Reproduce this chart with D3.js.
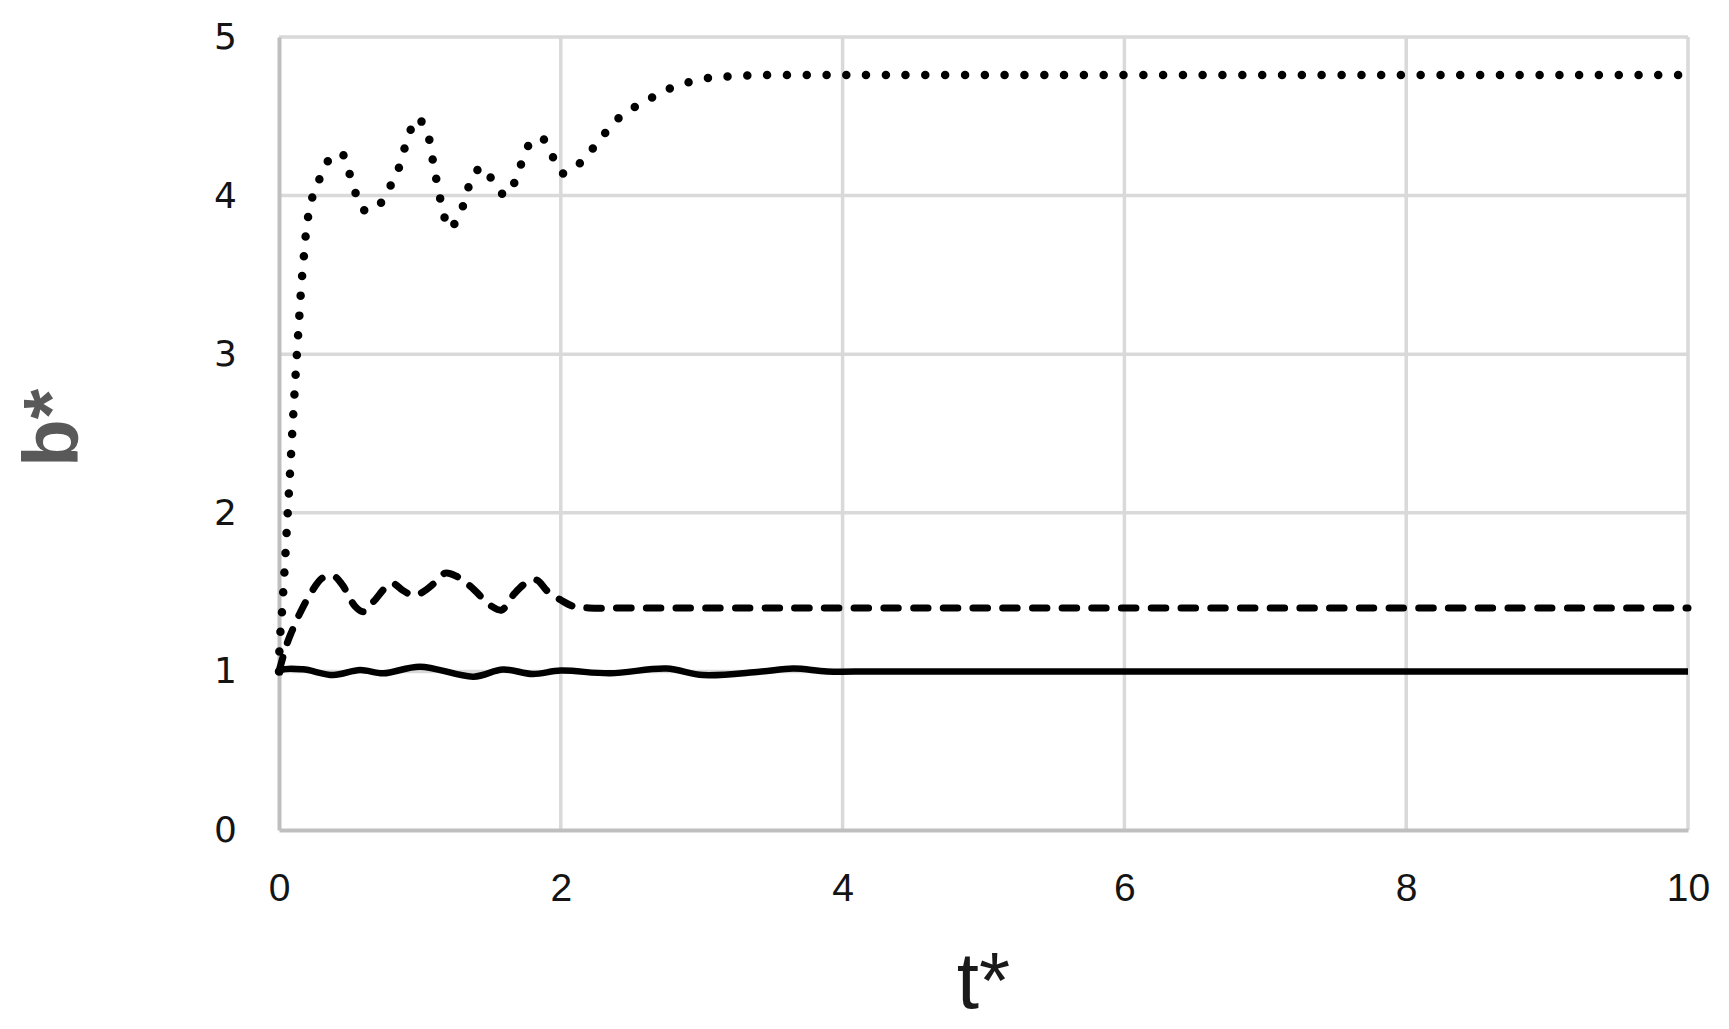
<!DOCTYPE html>
<html>
<head>
<meta charset="utf-8">
<script src="https://cdn.jsdelivr.net/npm/d3@7"></script>
<style>
  body { margin: 0; background: #fff; }
  svg { display: block; }
</style>
</head>
<body>
<svg width="1729" height="1029"></svg>
<script>
// values
const xTicks = [0, 2, 4, 6, 8, 10];
const yTicks = [0, 1, 2, 3, 4, 5];

const tDotted = [0, 0.005, 0.02, 0.04, 0.06, 0.08, 0.1, 0.12, 0.14, 0.16, 0.18, 0.2, 0.24, 0.29, 0.35, 0.44,
  0.5, 0.55, 0.6, 0.69, 0.77, 0.84, 0.92, 0.98, 1.05, 1.1, 1.15, 1.21, 1.28, 1.33, 1.37, 1.45, 1.53, 1.61,
  1.68, 1.75, 1.8, 1.87, 1.94, 2.01, 2.13, 2.22, 2.31, 2.4, 2.51, 2.63, 2.76, 2.89, 3.03, 3.17, 3.44, 3.8, 4.2, 10];
const bDotted = [1.0, 1.18, 1.36, 1.65, 1.97, 2.28, 2.6, 2.9, 3.18, 3.45, 3.65, 3.83, 4.0, 4.11, 4.22, 4.27,
  4.14, 4.0, 3.91, 3.92, 4.03, 4.15, 4.38, 4.49, 4.40, 4.18, 3.96, 3.79, 3.88, 4.0, 4.12, 4.18, 4.07, 4.0,
  4.10, 4.28, 4.35, 4.36, 4.25, 4.14, 4.20, 4.29, 4.39, 4.48, 4.55, 4.61, 4.67, 4.71, 4.74, 4.75, 4.76, 4.76, 4.76, 4.76];

const tDashed = [0, 0.055, 0.09, 0.15, 0.23, 0.31, 0.39, 0.45, 0.54, 0.6, 0.67, 0.8, 0.88, 0.95, 1.02, 1.1,
  1.18, 1.26, 1.36, 1.51, 1.58, 1.67, 1.75, 1.83, 1.9, 2.0, 2.09, 2.2, 2.5, 3.0, 10];
const bDashed = [1.0, 1.17, 1.25, 1.37, 1.50, 1.59, 1.60, 1.545, 1.41, 1.376, 1.44, 1.555, 1.51, 1.48, 1.50, 1.555,
  1.62, 1.60, 1.535, 1.41, 1.387, 1.49, 1.555, 1.576, 1.51, 1.45, 1.41, 1.40, 1.40, 1.40, 1.40];

const tSolid = [0, 0.02, 0.17, 0.385, 0.575, 0.74, 1.0, 1.38, 1.59, 1.8, 2.0, 2.35, 2.75, 3.01, 3.41, 3.65, 3.89, 4.2, 4.6, 10];
const bSolid = [0.98, 1.009, 1.013, 0.977, 1.009, 0.988, 1.03, 0.967, 1.012, 0.984, 1.005, 0.988, 1.018, 0.977, 0.998, 1.018, 1.0, 1.0, 1.0, 1.0];

const svg = d3.select('svg');

const x = d3.scaleLinear().domain([0, 10]).range([279, 1688]);
const y = d3.scaleLinear().domain([0, 5]).range([830, 37]);

// grid
svg.append('g')
  .selectAll('line')
  .data(xTicks.slice(1))
  .enter().append('line')
    .attr('x1', d => x(d)).attr('x2', d => x(d))
    .attr('y1', y(0)).attr('y2', y(5))
    .attr('stroke', '#d9d9d9').attr('stroke-width', 3.5);

svg.append('g')
  .selectAll('line')
  .data(yTicks.slice(1))
  .enter().append('line')
    .attr('x1', x(0)).attr('x2', x(10))
    .attr('y1', d => y(d)).attr('y2', d => y(d))
    .attr('stroke', '#d9d9d9').attr('stroke-width', 3.5);

// axes
const xAxis = svg.append('g')
  .attr('transform', `translate(0,${y(0)})`)
  .call(d3.axisBottom(x).tickValues(xTicks).tickSize(0).tickPadding(43).tickFormat(d3.format('d')));
const yAxis = svg.append('g')
  .attr('transform', `translate(${x(0)},0)`)
  .call(d3.axisLeft(y).tickValues(yTicks).tickSize(0).tickPadding(42).tickFormat(d3.format('d')));

[xAxis, yAxis].forEach(a => {
  a.select('.domain').attr('stroke', '#bfbfbf').attr('stroke-width', 4);
  a.selectAll('text')
    .attr('font-family', 'DejaVu Sans, sans-serif')
    .attr('font-size', 36)
    .attr('fill', '#141414');
});
xAxis.selectAll('text').attr('font-family', 'Liberation Sans, sans-serif').attr('font-size', 39);

// series
const line = d3.line().curve(d3.curveCatmullRom.alpha(0.5)).x(d => x(d[0])).y(d => y(d[1]));

svg.append('path')
  .datum(d3.zip(tSolid, bSolid))
  .attr('d', line)
  .attr('fill', 'none').attr('stroke', '#000').attr('stroke-width', 6.5);

svg.append('path')
  .datum(d3.zip(tDashed, bDashed))
  .attr('d', line)
  .attr('fill', 'none').attr('stroke', '#000').attr('stroke-width', 7)
  .attr('stroke-linecap', 'round').attr('stroke-dasharray', '14.5 15.2');

svg.append('path')
  .datum(d3.zip(tDotted, bDotted))
  .attr('d', line)
  .attr('fill', 'none').attr('stroke', '#000').attr('stroke-width', 8.5)
  .attr('stroke-linecap', 'round').attr('stroke-dasharray', '0 19.8');

// titles
svg.append('text')
  .attr('transform', 'translate(78,428) rotate(-90)')
  .attr('text-anchor', 'middle')
  .attr('font-family', 'Liberation Sans, sans-serif')
  .attr('font-weight', 'bold')
  .attr('font-size', 78)
  .attr('fill', '#595959')
  .text('b*');

svg.append('text')
  .attr('x', (x(0) + x(10)) / 2)
  .attr('y', 1008)
  .attr('text-anchor', 'middle')
  .attr('font-family', 'Liberation Sans, sans-serif')
  .attr('font-size', 80)
  .attr('fill', '#1a1a1a')
  .text('t*');
</script>
</body>
</html>
